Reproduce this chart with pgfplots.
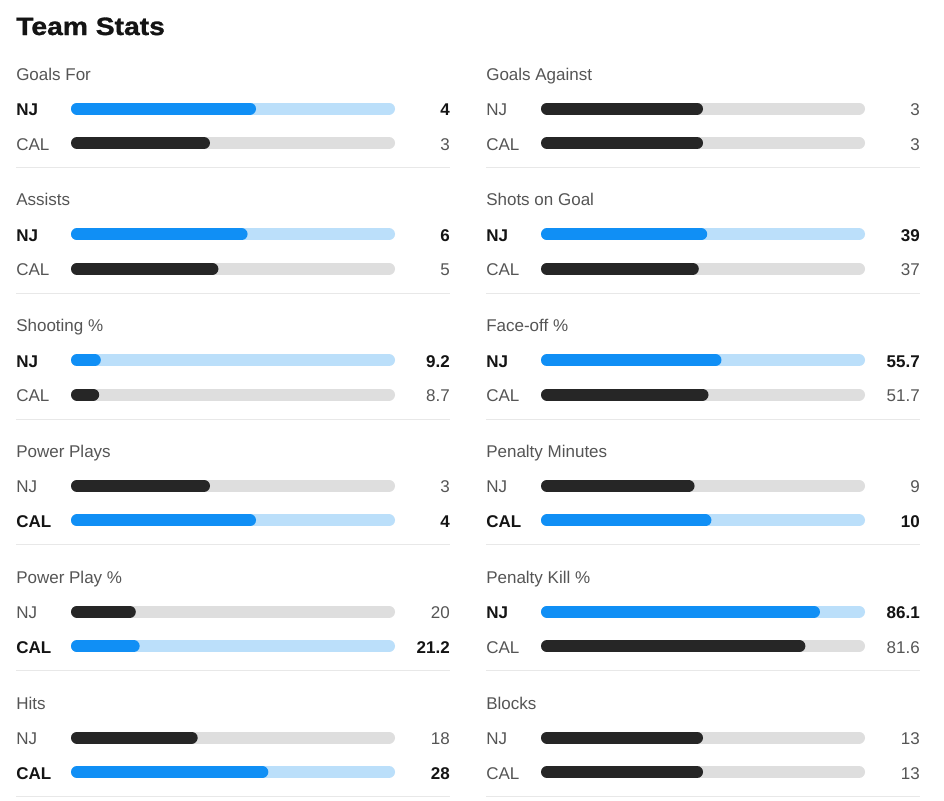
\documentclass[border=0pt]{standalone}
\usepackage{pgfplots}
\pgfplotsset{compat=1.18}
\usepackage{fontspec}
\setmainfont{Liberation Sans}
\newfontfamily\titlefont[FakeStretch=1.13,FakeBold=1.2]{Liberation Sans}
\definecolor{nblue}{RGB}{16,143,245}
\definecolor{lblue}{RGB}{187,223,250}
\definecolor{darkbar}{RGB}{38,38,38}
\definecolor{lgray}{RGB}{222,222,222}
\definecolor{txtgray}{RGB}{85,85,85}
\definecolor{txtdark}{RGB}{20,20,20}
\definecolor{sepgray}{RGB}{232,232,232}
\tikzset{
 barbase/.style={line width=9pt, line cap=round, shorten <=4.5pt, shorten >=4.5pt},
 hitrack/.style={barbase, draw=lblue}, hibar/.style={barbase, draw=nblue},
 lotrack/.style={barbase, draw=lgray}, lobar/.style={barbase, draw=darkbar},
 hitext/.style={font=\fontsize{12.75}{14}\selectfont\bfseries, text=txtdark},
 lotext/.style={font=\fontsize{12.75}{14}\selectfont, text=txtgray},
}
% #1 x offset, #2 y offset, #3 title, #4 NJ value, #5 CAL value,
% #6 NJ bar share, #7 CAL bar share, #8 NJ style, #9 CAL style
\newcommand{\panel}[9]{%
 \node[anchor=base west, font=\fontsize{12.75}{14}\selectfont, text=txtgray, inner sep=0] at (16+#1,80+#2) {#3};
 \coordinate (P) at (71+#1,108.5+#2);
 \begin{axis}[at={(P)}, anchor=north west, scale only axis,
   width=243pt, height=25.875pt, xmin=0, xmax=1, ymin=1, ymax=2,
   hide axis, clip=false]
  \addplot[#8track] coordinates {(0,2) (1,2)};
  \addplot[#8bar] coordinates {(0,2) (#6,2)};
  \addplot[#9track] coordinates {(0,1) (1,1)};
  \addplot[#9bar] coordinates {(0,1) (#7,1)};
 \end{axis}
 \node[anchor=base west, #8text, inner sep=0] at (16+#1,115.5+#2) {NJ};
 \node[anchor=base west, #9text, inner sep=0] at (16+#1,150+#2) {CAL};
 \node[anchor=base east, #8text, inner sep=0] at (450+#1,115.5+#2) {#4};
 \node[anchor=base east, #9text, inner sep=0] at (450+#1,150+#2) {#5};
 \draw[sepgray, line width=0.75pt] (16+#1,167.5+#2) -- (450+#1,167.5+#2);
}
\begin{document}
\begin{tikzpicture}[x=0.75pt,y=-0.75pt]
\useasboundingbox[fill=white] (0,0) rectangle (944,800);
\node[anchor=base west, inner sep=0, font=\titlefont\fontsize{18.75}{20}\selectfont\bfseries, text=txtdark] at (16,35) {Team Stats};
\panel{0}{0}{Goals For}{4}{3}{0.571}{0.429}{hi}{lo}
\panel{470}{0}{Goals Against}{3}{3}{0.5}{0.5}{lo}{lo}
\panel{0}{125.8}{Assists}{6}{5}{0.545}{0.455}{hi}{lo}
\panel{470}{125.8}{Shots on Goal}{39}{37}{0.513}{0.487}{hi}{lo}
\panel{0}{251.6}{Shooting \%}{9.2}{8.7}{0.092}{0.087}{hi}{lo}
\panel{470}{251.6}{Face-off \%}{55.7}{51.7}{0.557}{0.517}{hi}{lo}
\panel{0}{377.4}{Power Plays}{3}{4}{0.429}{0.571}{lo}{hi}
\panel{470}{377.4}{Penalty Minutes}{9}{10}{0.474}{0.526}{lo}{hi}
\panel{0}{503.2}{Power Play \%}{20}{21.2}{0.200}{0.212}{lo}{hi}
\panel{470}{503.2}{Penalty Kill \%}{86.1}{81.6}{0.861}{0.816}{hi}{lo}
\panel{0}{629}{Hits}{18}{28}{0.391}{0.609}{lo}{hi}
\panel{470}{629}{Blocks}{13}{13}{0.5}{0.5}{lo}{lo}
\end{tikzpicture}
\end{document}
